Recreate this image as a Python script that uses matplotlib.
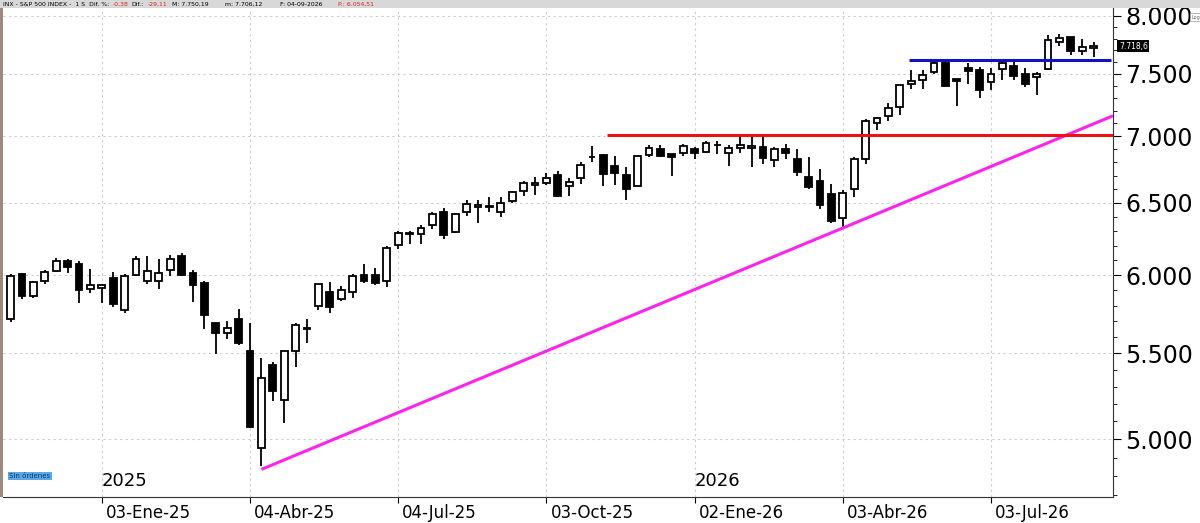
import matplotlib
matplotlib.use("Agg")
import matplotlib.pyplot as plt
import matplotlib.transforms as mt
import numpy as np
from matplotlib.ticker import FixedLocator, FuncFormatter, NullFormatter

# weekly candles, week 1 = 08-Nov-24 ... week 96 = 04-Sep-26
opens = [5714,6007,5860,5963,6027,6097,6077,5905,5912,5980,5770,6000,5963,5963,6034,6128,6014,5950,5688,5626,
         5714,5518,4952,5432,5221,5518,5650,5795,5885,5841,5885,6000,6000,5963,6205,6280,6281,6343,6434,6295,
         6434,6470,6470,6434,6513,6586,6632,6646,6705,6620,6683,6840,6855,6770,6705,6626,6855,6898,6865,6868,
         6900,6875,6935,6868,6912,6912,6918,6820,6900,6828,6690,6660,6566,6395,6600,6823,7105,7155,7230,7420,
         7448,7520,7590,7458,7550,7535,7430,7540,7565,7500,7478,7540,7775,7815,7690,7720]
highs = [6007,6013,5963,6033,6115,6108,6097,6040,5944,6020,6007,6128,6128,6108,6135,6148,6034,5963,5688,5700,
         5776,5688,5475,5451,5518,5688,5714,5944,5956,5930,6007,6077,6047,6200,6301,6301,6343,6434,6463,6427,
         6520,6520,6541,6541,6590,6660,6690,6720,6735,6683,6800,6925,6861,6850,6765,6857,6930,6930,6865,6937,
         6918,6960,6960,6930,7000,6990,6990,6918,6937,6900,6843,6750,6639,6595,6843,7138,7152,7260,7410,7530,
         7530,7610,7625,7458,7590,7560,7550,7605,7605,7550,7515,7830,7840,7815,7795,7770]
lows = [5694,5840,5847,5944,6020,6014,5815,5880,5815,5790,5751,5993,5944,5905,5993,5993,5821,5651,5494,5589,
        5552,5063,4855,5215,5091,5420,5564,5770,5751,5828,5847,5950,5937,5918,6178,6212,6212,6315,6246,6288,
        6406,6357,6434,6400,6500,6550,6560,6630,6545,6550,6640,6800,6620,6630,6520,6620,6838,6838,6698,6850,
        6828,6868,6860,6770,6868,6765,6790,6765,6828,6698,6600,6456,6357,6322,6543,6790,7050,7115,7166,7380,
        7380,7500,7390,7240,7420,7300,7364,7450,7450,7390,7330,7530,7740,7660,7660,7640]
closes = [5993,5860,5956,6020,6097,6054,5899,5937,5937,5808,5993,6108,6027,6014,6108,6000,5937,5739,5626,5657,
          5564,5068,5353,5273,5518,5676,5657,5944,5789,5899,5993,5963,5950,6185,6288,6288,6322,6420,6274,6420,
          6491,6484,6477,6500,6580,6646,6646,6683,6550,6653,6780,6838,6712,6720,6600,6850,6905,6850,6843,6925,
          6868,6945,6930,6912,6930,6925,6830,6900,6868,6727,6616,6486,6371,6573,6828,7117,7145,7225,7410,7445,
          7490,7590,7400,7440,7525,7370,7500,7595,7480,7420,7500,7790,7805,7695,7730,7740]

date_ticks = [9, 22, 35, 48, 61, 74, 87]
date_labels = ["03-Ene-25", "04-Abr-25", "04-Jul-25", "03-Oct-25", "02-Ene-26", "03-Abr-26", "03-Jul-26"]
year_pos = [9, 61]
year_labels = ["2025", "2026"]
y_ticks = [5000, 5500, 6000, 6500, 7000, 7500, 8000]

# trend lines (candle index, price)
support = [(23, 4836), (97.7, 7160)]
resistance_red = [(53.3, 7010), (97.7, 7010)]
resistance_blue = [(79.8, 7620), (97.5, 7620)]

fig = plt.figure(figsize=(12, 5.23), dpi=100)
fig.patch.set_facecolor("white")
ax = fig.add_axes([3/1200, 26/523, 1110/1200, 489/523])
ax.set_yscale("log")
ax.set_xlim(0.33, 97.7)
ax.set_ylim(4690, 8070)

idx = np.arange(1, len(opens) + 1)
o = np.array(opens); h = np.array(highs); l = np.array(lows); c = np.array(closes)
ax.vlines(idx, l, h, color="black", lw=1.3, zorder=2)
up = c >= o
bot = np.minimum(o, c); ht = np.maximum(np.abs(c - o), 4)
ax.bar(idx[up], ht[up], bottom=bot[up], width=0.6, facecolor="white", edgecolor="black", lw=1.3, zorder=3)
ax.bar(idx[~up], ht[~up], bottom=bot[~up], width=0.6, facecolor="black", edgecolor="black", lw=1.3, zorder=3)

for line, col in [(support, "#ff22ee"), (resistance_red, "#ee1111"), (resistance_blue, "#1111cc")]:
    (x0, y0), (x1, y1) = line
    ax.plot([x0, x1], [y0, y1], color=col, lw=2.2, zorder=4, solid_capstyle="butt")

ax.yaxis.tick_right()
ax.yaxis.set_major_locator(FixedLocator(y_ticks))
ax.yaxis.set_major_formatter(FuncFormatter(lambda v, p: f"{int(v):,}".replace(",", ".")))
ax.yaxis.set_minor_locator(FixedLocator(list(range(4700, 8100, 100))))
ax.yaxis.set_minor_formatter(NullFormatter())
ax.tick_params(axis="y", which="major", labelsize=17, length=6, pad=3, colors="black")
ax.tick_params(axis="y", which="minor", length=3)

ax.set_xticks(date_ticks)
ax.set_xticklabels(date_labels, fontsize=12, ha="left")
ax.tick_params(axis="x", length=4, pad=1)
off = mt.ScaledTranslation(4/100, 0, fig.dpi_scale_trans)
for t in ax.get_xticklabels():
    t.set_transform(t.get_transform() + off)

ax.grid(True, which="major", color="#cccccc", ls=(0, (2, 3)), lw=0.8)
for sp in ["left", "top"]:
    ax.spines[sp].set_visible(False)
ax.spines["right"].set_color("#333333")
ax.spines["bottom"].set_color("#333333")

for p, lab in zip(year_pos, year_labels):
    ax.text(p, 4775, lab, fontsize=13, ha="left", va="center")

# title bar
fig.patches.append(plt.Rectangle((0, 1 - 8/523), 1, 8/523, transform=fig.transFigure,
                                 facecolor="#d8d8d8", edgecolor="none"))
fig.patches.append(plt.Rectangle((0, 26/523), 3/1200, 489/523, transform=fig.transFigure,
                                 facecolor="#9a8a80", edgecolor="none"))
segs = [(3, "INX - S&P 500 INDEX -  1 S  Dif. %:", "black"), (113, "-0,38", "#dd2222"),
        (131, "Dif.:", "black"), (148, "-29,11", "#dd2222"), (172, "M: 7.750,19", "black"),
        (225, "m: 7.706,12", "black"), (280, "F: 04-09-2026", "black"), (338, "P.: 6.054,51", "#dd2222")]
for x, s, col in segs:
    fig.text(x/1200, 1 - 4.5/523, s, fontsize=4.4, color=col, va="center", ha="left")

fig.text(1119/1200, 1 - 46/523, "7.718,6", fontsize=5.5, color="white", va="center", ha="left",
         bbox=dict(boxstyle="square,pad=0.2", fc="black", ec="none"))
fig.text(1191/1200, 1 - 17/523, "Log", fontsize=3.6, color="#666666", va="center", ha="left",
         bbox=dict(boxstyle="square,pad=0.25", fc="white", ec="#aaaaaa", lw=0.6))
fig.text(9/1200, 1 - 476/523, "Sin órdenes", fontsize=5, color="#113366", va="center", ha="left",
         bbox=dict(boxstyle="square,pad=0.2", fc="#5aa8e8", ec="none"))

fig.savefig("out.png", dpi=100)
